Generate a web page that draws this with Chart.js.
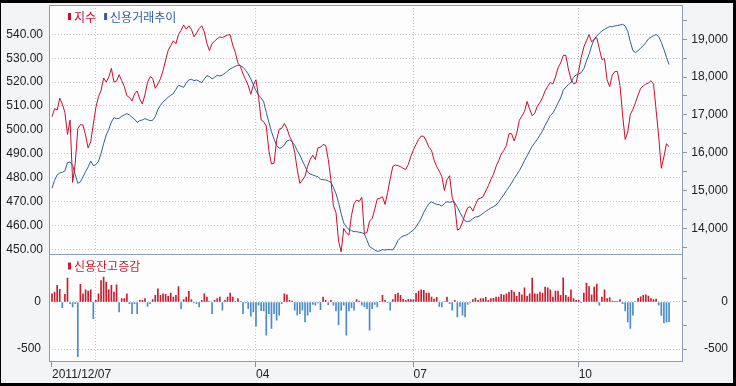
<!DOCTYPE html>
<html>
<head>
<meta charset="utf-8">
<script src="https://cdn.jsdelivr.net/npm/chart.js@4/dist/chart.umd.min.js"></script>
<style>
  html, body { margin: 0; padding: 0; background: #fff; }
  canvas { display: block; }
</style>
</head>
<body>
<canvas id="chart" width="736" height="386"></canvas>
<script>
// 지수 (left axis)
const indexValues = [
  505.5, 508.9, 508.3, 513.3, 510.8, 507.3, 498.1, 504.1, 478.0, 486.0,
  500.5, 502.2, 502.0, 497.8, 492.4, 495.0, 502.3, 509.4, 513.9, 516.5,
  521.7, 520.0, 522.1, 525.8, 520.0, 520.4, 523.1, 520.6, 518.2, 514.3,
  513.6, 512.1, 515.1, 516.3, 512.9, 510.8, 514.7, 519.9, 522.3, 521.6,
  517.4, 519.2, 521.4, 524.8, 529.2, 533.3, 535.3, 537.3, 536.1, 540.0,
  541.7, 543.9, 542.2, 543.6, 542.1, 539.0, 540.6, 542.4, 543.6, 541.1,
  536.2, 533.2, 536.2, 537.2, 538.2, 538.9, 538.7, 539.2, 539.7, 539.9,
  535.5, 532.5, 528.1, 526.5, 523.4, 521.0, 518.6, 514.9, 518.8, 521.0,
  513.9, 504.1, 503.4, 501.6, 491.3, 485.7, 486.0, 495.7, 500.3, 500.6,
  502.7, 500.6, 497.3, 495.3, 490.6, 483.3, 477.6, 479.0, 480.6, 484.8,
  487.6, 489.4, 487.6, 492.5, 492.7, 493.9, 493.5, 487.6, 479.4, 468.2,
  465.3, 453.4, 448.9, 458.7, 456.9, 455.9, 464.2, 469.1, 470.6, 470.0,
  471.8, 456.6, 457.0, 461.8, 462.9, 466.7, 471.1, 471.3, 472.0, 468.8,
  473.8, 479.5, 484.7, 485.3, 485.0, 484.6, 483.9, 483.4, 485.5, 489.0,
  491.7, 493.9, 496.0, 497.4, 497.3, 495.3, 492.7, 491.4, 487.3, 484.6,
  482.7, 480.4, 474.6, 479.2, 480.8, 471.7, 468.5, 458.0, 458.6, 461.4,
  464.7, 467.4, 467.8, 466.0, 468.6, 471.0, 471.4, 472.0, 474.4, 476.6,
  479.2, 481.4, 484.7, 487.1, 489.9, 491.4, 493.5, 498.4, 498.4, 495.4,
  498.5, 504.0, 505.8, 507.7, 511.9, 508.7, 505.9, 507.0, 510.0, 511.4,
  513.5, 516.4, 518.2, 519.9, 519.2, 522.1, 526.0, 528.0, 531.1, 531.3,
  525.5, 521.3, 519.3, 519.7, 524.8, 530.4, 534.7, 537.3, 539.9, 536.9,
  537.8, 538.6, 533.9, 529.5, 529.8, 521.0, 518.1, 523.0, 524.4, 524.5,
  518.6, 506.3, 496.0, 499.1, 506.5, 508.6, 511.4, 514.6, 517.4, 518.4,
  519.2, 519.6, 520.6, 519.1, 508.2, 497.0, 483.9, 488.7, 494.2, 492.9
];

// 신용거래추이 (right axis)
const creditValues = [
  15058, 15270, 15411, 15464, 15482, 15517, 15737, 15755, 15667, 15420,
  15191, 15226, 15358, 15499, 15623, 15781, 15658, 15684, 15773, 15975,
  16240, 16469, 16619, 16813, 16928, 16901, 16910, 16963, 16998, 17034,
  16998, 16937, 16884, 16804, 16848, 16866, 16901, 16875, 16848, 16857,
  16954, 17139, 17254, 17342, 17404, 17466, 17519, 17563, 17677, 17783,
  17757, 17730, 17845, 17924, 17942, 17907, 17924, 17889, 17854, 17951,
  18039, 18012, 17951, 17995, 18048, 18030, 18056, 18101, 18162, 18215,
  18250, 18286, 18312, 18303, 18259, 18180, 18083, 17951, 17792, 17642,
  17527, 17448, 17342, 17069, 16804, 16557, 16363, 16196, 16117, 16134,
  16205, 16311, 16337, 16284, 16196, 16055, 15940, 15781, 15640, 15490,
  15438, 15411, 15385, 15367, 15296, 15288, 15279, 15252, 15217, 15085,
  14917, 14679, 14388, 14141, 14035, 13974, 13938, 13912, 13912, 13894,
  13886, 13850, 13683, 13515, 13471, 13427, 13392, 13401, 13436, 13427,
  13436, 13436, 13427, 13533, 13674, 13753, 13797, 13815, 13850, 13903,
  13956, 14035, 14150, 14265, 14423, 14547, 14653, 14697, 14662, 14635,
  14626, 14591, 14653, 14706, 14688, 14706, 14679, 14556, 14423, 14291,
  14194, 14177, 14194, 14256, 14300, 14309, 14344, 14397, 14450, 14494,
  14538, 14573, 14617, 14697, 14794, 14891, 14997, 15094, 15199, 15314,
  15420, 15526, 15649, 15790, 15914, 16046, 16169, 16266, 16355, 16469,
  16575, 16725, 16848, 16981, 17051, 17175, 17316, 17448, 17651, 17739,
  17801, 17854, 17995, 18056, 18083, 18118, 18224, 18427, 18603, 18824,
  19000, 19088, 19159, 19220, 19265, 19300, 19335, 19335, 19353, 19362,
  19379, 19397, 19353, 19203, 18938, 18700, 18647, 18700, 18762, 18832,
  18912, 19009, 19053, 19097, 19123, 19071, 18921, 18735, 18524, 18330
];

// 신용잔고증감 (bottom panel)
const changeValues = [
   88,  106,  176,  134,  -60,   81,  254,  -18,  -53,  -18,
 -581,  187,   88,  130,  116,  130, -176,   18,   88,  229,
  264,  211,  130,  176,  106,  183, -106,   35,   35,   88,
  -18, -123,  -18, -123,   18,   18,   35,  -46,  -18,   25,
   70,  141,   70,   88,   81,   60,   95,   53,   70,  165,
  -70,   25,   53,  113,   25,  -11,  -18,  -53,   18,   88,
   53,    5, -123,   18,   35,   53,  -88,   18,   53,   95,
   53,    5,   35,    5, -123,  -11,  -70, -151, -106, -257,
  -35,  -92,  -95, -352, -123, -282, -123, -194, -141,  -18,
   88,   77,   18,   11,  -88, -141, -123,  -88, -211, -141,
 -106,  -25,  -35,  -11,  -81,   53,   18,  -28,   18,  -35,
  -95, -240,  -88,  -35, -352,  -95,  -60,  -88,   25,   11,
  -35,  -53,  -70, -299,  -70,  -25,  -53,    5,   70,   18,
   -7,  -88,   25,   81,   95,   70,   28,   18,   28,   25,
   25,   92,  116,  130,  123,   95,   95,   53,   32,   49,
  -46,  -53,    5,   53,  -18,  -88,   18, -158,  -46, -141,
 -158,  -25,  -11,   25,   42,   18,   35,   35,   49,   18,
   35,   39,   53,   53,   81,   74,   88,  106,  123,  106,
   60,  102,   77,  151,   60,   88,  254,   88,   85,  106,
   95,  158,  151,  130,   53,  116,  116,   70,  257,   70,
   53,  130,   35,   18,   18,   -7,   95,  201,  165,   77,
  158,  190,  -35,   53,  130,   35,   46,   11,    3,    4,
   25,  -18,  -95, -211, -282, -141,    5,   39,   56,   70,
   77,   63,   35,   25,   32,  -35, -144, -222, -215, -208
];

const leftTicks = [450, 460, 470, 480, 490, 500, 510, 520, 530, 540];
const rightTicks = [14000, 15000, 16000, 17000, 18000, 19000];
const rightMarks = [13500, 14000, 14500, 15000, 15500, 16000, 16500, 17000, 17500, 18000, 18500, 19000, 19500];
const barTicks = [-500, 0];
const barMarks = [-500, -250, 0, 250];

// trading calendar
const firstDay = '2011-12-07';
const holidays = ['2011-12-30', '2012-01-23', '2012-01-24', '2012-03-01', '2012-04-11',
  '2012-05-01', '2012-05-28', '2012-06-06', '2012-08-15', '2012-10-01', '2012-10-03'];
const gridMonths = [1, 4, 7, 10];
const labelMonths = [4, 7, 10];

function tradingDays(start, n) {
  const out = [];
  const d = new Date(start + 'T00:00:00Z');
  while (out.length < n) {
    const wd = d.getUTCDay();
    const s = d.toISOString().slice(0, 10);
    if (wd !== 0 && wd !== 6 && !holidays.includes(s)) out.push(s);
    d.setUTCDate(d.getUTCDate() + 1);
  }
  return out;
}

const dates = tradingDays(firstDay, indexValues.length);
const gridIdx = [];
dates.forEach((s, i) => {
  if (i > 0 && s.slice(5, 7) !== dates[i - 1].slice(5, 7) && gridMonths.includes(+s.slice(5, 7))) gridIdx.push(i);
});
const xTicks = [0].concat(gridIdx);

function xLabel(i) {
  if (i === 0) return dates[0].replace(/-/g, '/');
  const m = dates[i] ? +dates[i].slice(5, 7) : 0;
  return labelMonths.includes(m) ? dates[i].slice(5, 7) : '';
}

const RED = '#c8102e';
const BLUE = '#2f5f9e';
const BAR_UP = '#c41e30';
const BAR_DOWN = '#4a8bc8';
const GRID = '#c3c8d0';
const FRAME = '#8c9cb0';
const TEXT = '#222222';
const numFont = { family: "'Liberation Sans', Arial, sans-serif", size: 12 };
const korFont = "12px 'Noto Sans CJK KR', sans-serif";

// keep axes to fixed sizes, no extra label padding
const fixY = w => s => { s.width = w; s.paddingTop = 0; s.paddingBottom = 0; };

const framePlugin = {
  id: 'frame',
  beforeDraw(chart) {
    const { ctx, width, height, chartArea: a } = chart;
    ctx.save();
    ctx.fillStyle = '#000';
    ctx.fillRect(0, 0, width, height);
    ctx.fillStyle = '#f3f4f6';
    ctx.fillRect(1, 3, width - 4, height - 6);
    ctx.fillStyle = '#fdfdfe';
    ctx.fillRect(a.left, a.top, a.width, a.height);
    ctx.restore();
  },
  afterDraw(chart) {
    const { ctx, chartArea: a } = chart;
    const split = Math.round(chart.scales.yB.top) + 0.5;
    ctx.save();
    ctx.strokeStyle = FRAME;
    ctx.lineWidth = 1;
    ctx.strokeRect(a.left + 0.5, a.top + 0.5, a.width - 1, a.height - 1);
    ctx.beginPath();
    ctx.moveTo(a.left, split);
    ctx.lineTo(a.right, split);
    ctx.stroke();

    // legends
    const legend = (x, y, items) => {
      ctx.font = korFont;
      ctx.textBaseline = 'middle';
      items.forEach(it => {
        ctx.fillStyle = it.color;
        ctx.fillRect(x, y - 3, 3, 7);
        x += 6;
        ctx.fillText(it.text, x, y + 1);
        x += ctx.measureText(it.text).width + 8;
      });
    };
    const ds = chart.data.datasets;
    legend(a.left + 19, a.top + 11, [
      { text: ds[0].label, color: RED },
      { text: ds[1].label, color: BLUE }
    ]);
    legend(a.left + 19, split + 11, [{ text: ds[2].label, color: BAR_UP }]);
    ctx.restore();
  }
};

new Chart(document.getElementById('chart'), {
  type: 'line',
  data: {
    datasets: [
      {
        type: 'line',
        label: '지수',
        data: indexValues.map((v, i) => ({ x: i, y: v })),
        yAxisID: 'yL',
        borderColor: RED,
        borderWidth: 1,
        pointRadius: 0,
        tension: 0
      },
      {
        type: 'line',
        label: '신용거래추이',
        data: creditValues.map((v, i) => ({ x: i, y: v })),
        yAxisID: 'yR',
        borderColor: BLUE,
        borderWidth: 1,
        pointRadius: 0,
        tension: 0
      },
      {
        type: 'bar',
        label: '신용잔고증감',
        data: changeValues.map((v, i) => ({ x: i, y: v })),
        yAxisID: 'yB',
        backgroundColor: changeValues.map(v => v >= 0 ? BAR_UP : BAR_DOWN),
        borderWidth: 0,
        barThickness: 1
      }
    ]
  },
  options: {
    responsive: false,
    animation: false,
    devicePixelRatio: 1,
    events: [],
    layout: { padding: { top: 5, left: 0, right: 8, bottom: 0 } },
    plugins: { legend: { display: false }, tooltip: { enabled: false } },
    scales: {
      x: {
        type: 'linear',
        min: -1.16,
        max: 244.4,
        offset: false,
        afterBuildTicks: s => { s.ticks = xTicks.map(v => ({ value: v })); },
        afterFit: s => { s.height = 24; s.paddingLeft = 0; s.paddingRight = 0; },
        grid: {
          offset: false,
          color: c => (c.tick && c.tick.value > 0) ? GRID : 'rgba(0,0,0,0)',
          tickColor: c => (c.tick && xLabel(c.tick.value)) ? '#8a8f98' : 'rgba(0,0,0,0)',
          tickLength: 5
        },
        border: { display: false, dash: [1, 2] },
        ticks: {
          autoSkip: false, maxRotation: 0, align: 'start', padding: 0,
          color: TEXT, font: numFont,
          callback: v => xLabel(v)
        }
      },
      yL: {
        type: 'linear', position: 'left', stack: 'L', stackWeight: 249.5, weight: 1,
        min: 447.8, max: 552.3,
        afterBuildTicks: s => { s.ticks = leftTicks.map(v => ({ value: v })); },
        afterFit: fixY(49),
        grid: { color: GRID, drawTicks: false },
        border: { display: false, dash: [1, 2] },
        ticks: { autoSkip: false, padding: 6, color: TEXT, font: numFont, callback: v => v.toFixed(2) }
      },
      yB: {
        type: 'linear', position: 'left', stack: 'L', stackWeight: 107.5, weight: 0,
        min: -638, max: 505,
        afterBuildTicks: s => { s.ticks = barTicks.map(v => ({ value: v })); },
        afterFit: fixY(49),
        grid: { color: GRID, drawTicks: false },
        border: { display: false, dash: [1, 2] },
        ticks: { autoSkip: false, padding: 8, color: TEXT, font: numFont, callback: v => String(v) }
      },
      yR: {
        type: 'linear', position: 'right', stack: 'R', stackWeight: 249.5, weight: 0,
        min: 13307, max: 19907,
        afterBuildTicks: s => { s.ticks = rightMarks.map(v => ({ value: v })); },
        afterFit: fixY(45),
        grid: { drawOnChartArea: false, tickLength: 4, tickColor: FRAME },
        border: { display: false },
        ticks: {
          autoSkip: false, crossAlign: 'far', color: TEXT, font: numFont,
          callback: v => rightTicks.includes(v) ? v.toLocaleString('en-US') : ''
        }
      },
      yBR: {
        type: 'linear', position: 'right', stack: 'R', stackWeight: 107.5, weight: 1,
        min: -638, max: 505,
        afterBuildTicks: s => { s.ticks = barMarks.map(v => ({ value: v })); },
        afterFit: fixY(45),
        grid: { drawOnChartArea: false, tickLength: 4, tickColor: FRAME },
        border: { display: false },
        ticks: {
          autoSkip: false, crossAlign: 'far', color: TEXT, font: numFont,
          callback: v => barTicks.includes(v) ? String(v) : ''
        }
      }
    }
  },
  plugins: [framePlugin]
});
</script>
</body>
</html>
